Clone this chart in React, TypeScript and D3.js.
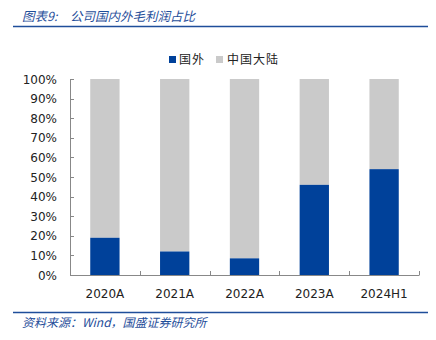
import React from "react";
import * as d3 from "d3";

const categories = ["2020A", "2021A", "2022A", "2023A", "2024H1"];
const overseas = [19, 12, 8.5, 46, 54];
const yTicks = [0, 10, 20, 30, 40, 50, 60, 70, 80, 90, 100];
const seriesNames = ["国外", "中国大陆"];

const BLUE = "#00419A";
const GRAY = "#CACACA";
const TITLE_BLUE = "#1F4E9A";
const FONT = "'DejaVu Sans', Verdana, sans-serif";
const CJK = "'Noto Sans CJK SC', sans-serif";

export default function App() {
  const W = 436, H = 340;
  const x = d3.scaleBand<string>().domain(categories).range([70, 419]).paddingInner(0.58).paddingOuter(0.29);
  const y = d3.scaleLinear().domain([0, 100]).range([275, 79]);
  const bounds = d3.scaleBand<string>().domain(categories).range([70, 419]);
  return (
    <svg width={W} height={H} style={{ position: "absolute", left: 0, top: 0 }}>
      <rect width={W} height={H} fill="#fff" />
      <text x={22} y={21} fill={TITLE_BLUE} fontSize={12.5} fontStyle="italic" fontFamily={CJK}>图表9:</text>
      <text x={70} y={21} fill={TITLE_BLUE} fontSize={12.5} fontStyle="italic" fontFamily={CJK}>公司国内外毛利润占比</text>
      <line x1={13} x2={428} y1={26.5} y2={26.5} stroke={TITLE_BLUE} strokeWidth={1.5} />
      {/* legend */}
      <rect x={169} y={56} width={7} height={7} fill={BLUE} />
      <text x={179} y={64} fontSize={12} fill="#222" fontFamily={CJK} letterSpacing={1}>{seriesNames[0]}</text>
      <rect x={216} y={56} width={7} height={7} fill={GRAY} />
      <text x={227} y={64} fontSize={12} fill="#222" fontFamily={CJK} letterSpacing={1}>{seriesNames[1]}</text>
      {/* bars */}
      {categories.map((c, i) => (
        <g key={c}>
          <rect x={x(c)} width={x.bandwidth()} y={y(100)} height={y(overseas[i]) - y(100)} fill={GRAY} />
          <rect x={x(c)} width={x.bandwidth()} y={y(overseas[i])} height={y(0) - y(overseas[i])} fill={BLUE} />
        </g>
      ))}
      {/* y axis */}
      <line x1={70.5} x2={70.5} y1={y(100)} y2={y(0)} stroke="#888" />
      {yTicks.map((t) => (
        <g key={t}>
          <line x1={70} x2={74} y1={Math.round(y(t)) + 0.5} y2={Math.round(y(t)) + 0.5} stroke="#888" />
          <text x={57} y={y(t) + 4.5} textAnchor="end" fontSize={12} fill="#222" fontFamily={FONT}>{t}%</text>
        </g>
      ))}
      {/* x axis */}
      <line x1={70} x2={419.5} y1={275.5} y2={275.5} stroke="#888" />
      {categories.map((c) => (
        <line key={"t" + c} x1={Math.round(bounds(c)!) + 0.5} x2={Math.round(bounds(c)!) + 0.5} y1={271} y2={275} stroke="#888" />
      ))}
      <line x1={419.5} x2={419.5} y1={271} y2={275} stroke="#888" />
      {categories.map((c) => (
        <text key={"l" + c} x={bounds(c)! + bounds.bandwidth() / 2} y={298} textAnchor="middle" fontSize={12} fill="#222" fontFamily={FONT}>{c}</text>
      ))}
      <line x1={13} x2={428} y1={312.5} y2={312.5} stroke={TITLE_BLUE} strokeWidth={1.5} />
      <text x={22} y={327} fill={TITLE_BLUE} fontSize={12} fontStyle="italic" fontFamily={CJK}>
        资料来源：Wind，国盛证券研究所
      </text>
    </svg>
  );
}
